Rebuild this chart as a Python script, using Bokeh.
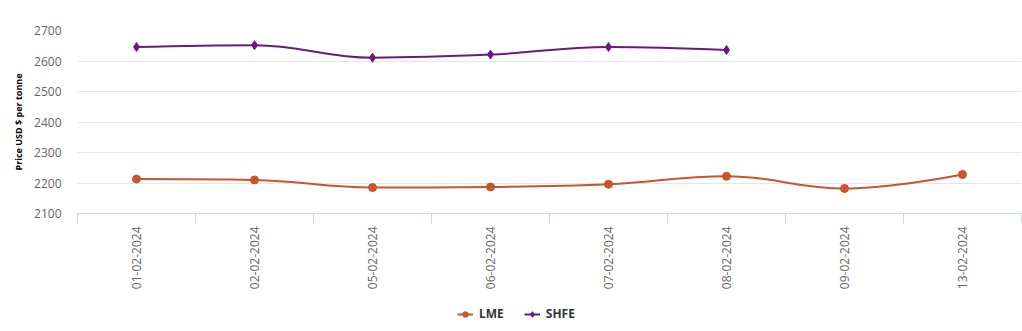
from bokeh.plotting import figure
from bokeh.layouts import column
from bokeh.models import Range1d, FixedTicker, Legend, LegendItem
from bokeh.embed import file_html
from bokeh.resources import INLINE

dates = ["01-02-2024", "02-02-2024", "05-02-2024", "06-02-2024",
         "07-02-2024", "08-02-2024", "09-02-2024", "13-02-2024"]
lme = [2213, 2210, 2185, 2187, 2196, 2222, 2182, 2228]
shfe = [2646, 2652, 2611, 2621, 2646, 2636]
y_ticks = [2100, 2200, 2300, 2400, 2500, 2600, 2700]
series_names = ["LME", "SHFE"]

LME_COLOR = "#c9552c"
SHFE_COLOR = "#6b1a7b"
NAN = float("nan")


def spline_segments(xs, ys, smoothing=1.5):
    """Highcharts-style spline control points, computed from the data."""
    n = len(xs)
    denom = smoothing + 1
    lc = [(xs[i], ys[i]) for i in range(n)]
    rc = [(xs[i], ys[i]) for i in range(n)]
    for i in range(1, n - 1):
        px, py = xs[i], ys[i]
        lx, ly = xs[i - 1], ys[i - 1]
        nx, ny = xs[i + 1], ys[i + 1]
        lcx = (smoothing * px + lx) / denom
        lcy = (smoothing * py + ly) / denom
        rcx = (smoothing * px + nx) / denom
        rcy = (smoothing * py + ny) / denom
        if rcx != lcx:
            corr = (rcy - lcy) * (rcx - px) / (rcx - lcx) + py - rcy
            lcy += corr
            rcy += corr
        if lcy > ly and lcy > py:
            lcy = max(ly, py); rcy = 2 * py - lcy
        elif lcy < ly and lcy < py:
            lcy = min(ly, py); rcy = 2 * py - lcy
        if rcy > ny and rcy > py:
            rcy = max(ny, py); lcy = 2 * py - rcy
        elif rcy < ny and rcy < py:
            rcy = min(ny, py); lcy = 2 * py - rcy
        lc[i] = (lcx, lcy)
        rc[i] = (rcx, rcy)
    d = dict(x0=[], y0=[], x1=[], y1=[], cx0=[], cy0=[], cx1=[], cy1=[])
    for i in range(1, n):
        d["x0"].append(xs[i - 1]); d["y0"].append(ys[i - 1])
        d["x1"].append(xs[i]); d["y1"].append(ys[i])
        d["cx0"].append(rc[i - 1][0]); d["cy0"].append(rc[i - 1][1])
        d["cx1"].append(lc[i][0]); d["cy1"].append(lc[i][1])
    return d


p = figure(width=1022, height=306, output_backend="svg", toolbar_location=None,
           x_range=Range1d(-0.5, len(dates) - 0.5), y_range=Range1d(2100, 2700),
           min_border_left=77, min_border_right=1, min_border_top=30,
           min_border_bottom=93)
p.outline_line_color = None
p.background_fill_color = "white"
p.border_fill_color = "white"

x_lme = list(range(len(lme)))
x_shfe = list(range(len(shfe)))

p.bezier(line_color=LME_COLOR, line_width=2, **spline_segments(x_lme, lme))
p.scatter(x_lme, lme, marker="circle", size=8, fill_color=LME_COLOR, line_color=LME_COLOR)
p.bezier(line_color=SHFE_COLOR, line_width=2, **spline_segments(x_shfe, shfe))
p.scatter(x_shfe, shfe, marker="diamond", size=9, fill_color=SHFE_COLOR, line_color=SHFE_COLOR)

# x axis
xa = p.xaxis[0]
xa.ticker = FixedTicker(ticks=list(range(len(dates))),
                        minor_ticks=[i - 0.5 for i in range(len(dates) + 1)])
xa.major_label_overrides = {i: d for i, d in enumerate(dates)}
xa.major_label_orientation = 1.5707963
xa.major_tick_line_color = None
xa.minor_tick_in = 0
xa.minor_tick_out = 10
xa.minor_tick_line_color = "#ccd6eb"
xa.axis_line_color = "#ccd6eb"
xa.major_label_text_font = "Open Sans"
xa.major_label_text_font_size = "12px"
xa.major_label_text_color = "#666666"
xa.major_label_standoff = 3

# y axis
ya = p.yaxis[0]
ya.ticker = FixedTicker(ticks=y_ticks)
ya.axis_line_color = None
ya.major_tick_line_color = None
ya.minor_tick_line_color = None
ya.major_label_text_font = "Open Sans"
ya.major_label_text_font_size = "12px"
ya.major_label_text_color = "#666666"
ya.major_label_standoff = 10
ya.axis_label = "Price USD $ per tonne"
ya.axis_label_text_font = "Open Sans"
ya.axis_label_text_font_style = "bold"
ya.axis_label_text_font_size = "9px"
ya.axis_label_text_color = "#000000"
ya.axis_label_standoff = 6

p.xgrid.grid_line_color = None
p.ygrid.grid_line_color = "#e6e6e6"

# legend strip
lg = figure(width=1022, height=25, output_backend="svg", toolbar_location=None,
            x_range=Range1d(0, 1), y_range=Range1d(0, 1),
            x_axis_location=None, y_axis_location=None,
            min_border=0, min_border_left=0, min_border_right=0,
            min_border_top=0, min_border_bottom=0)
lg.outline_line_color = None
lg.grid.visible = False
l1 = lg.line([NAN], [NAN], line_color=LME_COLOR, line_width=2)
m1 = lg.scatter([NAN], [NAN], marker="circle", size=8, fill_color=LME_COLOR, line_color=LME_COLOR)
l2 = lg.line([NAN], [NAN], line_color=SHFE_COLOR, line_width=2)
m2 = lg.scatter([NAN], [NAN], marker="diamond", size=9, fill_color=SHFE_COLOR, line_color=SHFE_COLOR)

legend = Legend(items=[LegendItem(label=series_names[0], renderers=[l1, m1]),
                       LegendItem(label=series_names[1], renderers=[l2, m2])],
                orientation="horizontal", location=(380, 9),
                background_fill_alpha=0, border_line_color=None,
                label_text_font="Open Sans", label_text_font_style="bold",
                label_text_font_size="12px", label_text_color="#333333",
                glyph_width=16, glyph_height=14, label_standoff=6, spacing=20,
                padding=0, margin=0)
lg.add_layout(legend, "center")

layout = column(p, lg, spacing=0)
open("out.html", "w").write(file_html(layout, INLINE))
